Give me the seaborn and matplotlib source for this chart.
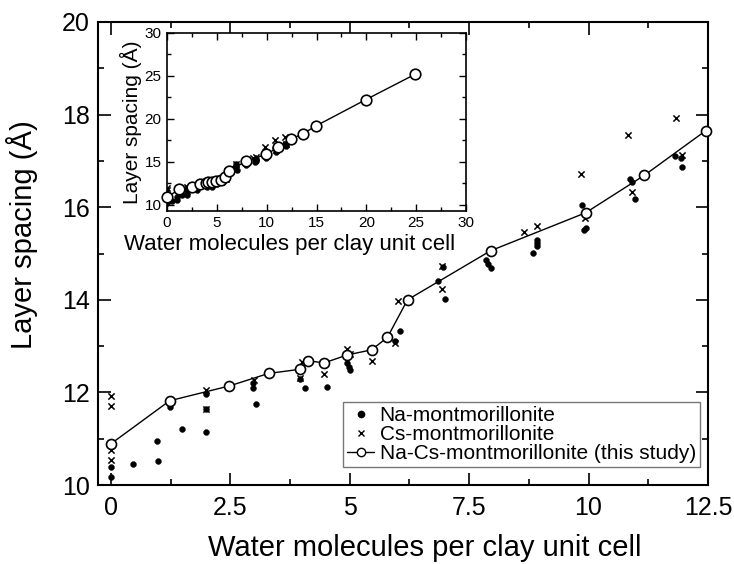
import numpy as np
import pandas as pd
import matplotlib
matplotlib.use('Agg')
import matplotlib.pyplot as plt
from matplotlib.lines import Line2D
from matplotlib.ticker import MultipleLocator
import seaborn as sns

# Na-montmorillonite (literature)
na_x = [0, 0, 0.47, 0.96, 0.98, 1.23, 1.49, 2.0, 2.0, 2.0, 2.97, 2.97, 3.03,
        3.96, 4.06, 4.53, 4.95, 4.98, 5.0, 5.94, 6.05, 6.85, 7.0, 6.95,
        7.85, 7.9, 7.96, 8.83, 8.92, 8.93, 8.92, 9.86, 9.9, 9.94,
        10.86, 10.92, 10.97, 11.82, 11.93, 11.95]
na_y = [10.17, 10.40, 10.45, 10.96, 10.52, 11.69, 11.20, 11.14, 11.65, 11.96, 12.20, 12.09, 11.76,
        12.30, 12.10, 12.11, 12.63, 12.55, 12.48, 13.10, 13.33, 14.41, 14.01, 14.71,
        14.86, 14.78, 14.69, 15.02, 15.30, 15.22, 15.16, 16.05, 15.50, 15.55,
        16.60, 16.55, 16.18, 17.11, 17.07, 16.87]

# Cs-montmorillonite (literature)
cs_x = [0, 0, 0, 0, 2.0, 2.0, 3.0, 3.96, 4.01, 4.46, 4.95, 5.0, 5.46, 5.94,
        6.01, 6.94, 6.94, 8.65, 8.92, 9.85, 9.93, 10.83, 10.92, 11.83, 11.95]
cs_y = [11.92, 11.71, 10.76, 10.54, 12.05, 11.65, 12.27, 12.32, 12.66, 12.39, 12.93, 12.84, 12.68, 13.06,
        13.98, 14.73, 14.23, 15.47, 15.60, 16.72, 15.76, 17.57, 16.33, 17.92, 17.12]

# Na-Cs-montmorillonite (this study)
nacs_x = [0, 1.23, 2.48, 3.30, 3.96, 4.13, 4.47, 4.95, 5.46, 5.79, 6.21,
          7.95, 9.94, 11.17, 12.45, 13.67, 14.95, 19.96, 24.87]
nacs_y = [10.89, 11.82, 12.14, 12.41, 12.50, 12.68, 12.64, 12.81, 12.92, 13.19, 14.00,
          15.06, 15.88, 16.69, 17.65, 18.30, 19.19, 22.25, 25.18]

xlabel = 'Water molecules per clay unit cell'
ylabel = 'Layer spacing (Å)'
legend_labels = ['Na-montmorillonite', 'Cs-montmorillonite', 'Na-Cs-montmorillonite (this study)']
main_xticks = [0, 2.5, 5, 7.5, 10, 12.5]
main_xticklabels = ['0', '2.5', '5', '7.5', '10', '12.5']

sns.set_style('ticks')
plt.rcParams['font.family'] = ['Liberation Sans', 'DejaVu Sans']
plt.rcParams.update({'text.color': 'black', 'axes.labelcolor': 'black',
                     'xtick.color': 'black', 'ytick.color': 'black',
                     'axes.edgecolor': 'black'})

fig = plt.figure(figsize=(7.34, 5.64), dpi=100)
ax = fig.add_axes([0.1335, 0.140, 0.831, 0.821])
ins = fig.add_axes([0.2275, 0.626, 0.4074, 0.3156])


def draw(a, msize, clip_max=None):
    sns.scatterplot(x=na_x, y=na_y, ax=a, marker='o', s=18, color='black',
                    edgecolor='black', linewidth=0.3, zorder=3)
    sns.scatterplot(x=cs_x, y=cs_y, ax=a, marker='x', s=20, color='black',
                    linewidth=1.1, zorder=3)
    sns.lineplot(x=nacs_x, y=nacs_y, ax=a, color='black', lw=1.0,
                 estimator=None, sort=False, zorder=4)
    df = pd.DataFrame({'x': nacs_x, 'y': nacs_y})
    if clip_max is not None:
        df = df[df.x <= clip_max]
    sns.scatterplot(data=df, x='x', y='y', ax=a, marker='o', s=msize,
                    facecolor='white', edgecolor='black', linewidth=1.2,
                    zorder=5, clip_on=False)


draw(ax, 52, clip_max=12.5)
ax.set_xlim(-0.27, 12.5)
ax.set_ylim(10, 20)
ax.xaxis.set_minor_locator(MultipleLocator(1.25))
ax.yaxis.set_major_locator(MultipleLocator(2))
ax.yaxis.set_minor_locator(MultipleLocator(1))
ax.set_xticks(main_xticks)
ax.set_xticklabels(main_xticklabels)
ax.tick_params(which='both', direction='in', top=True, right=True, labelsize=18, width=1.2)
ax.tick_params(which='major', length=9)
ax.tick_params(axis='x', which='major', pad=8)
ax.tick_params(axis='y', which='major', pad=6)
ax.tick_params(which='minor', length=4.5)
for s in ax.spines.values():
    s.set_linewidth(1.5)
ax.set_xlabel(xlabel, fontsize=21)
ax.xaxis.set_label_coords(0.535, -0.105)
ax.set_ylabel(ylabel, fontsize=21)
ax.yaxis.set_label_coords(-0.099, 0.54)

# legend handles drawn smaller than the plotted markers
handles = [
    Line2D([], [], ls='none', marker='o', ms=4.5, color='black'),
    Line2D([], [], ls='none', marker='x', ms=4.5, mew=1, color='black'),
    Line2D([], [], ls='-', lw=1, marker='o', ms=6, mfc='white', mec='black', color='black'),
]
leg = ax.legend(handles, legend_labels, loc='lower right', bbox_to_anchor=(0.987, 0.039),
                borderaxespad=0, fontsize=15, frameon=True, fancybox=False,
                handlelength=1.3, handletextpad=0.25, labelspacing=0.0,
                borderpad=0.2)
leg.get_frame().set_edgecolor('#555555')
leg.get_frame().set_linewidth(1.0)

draw(ins, 58)
ins.set_xlim(0, 30)
ins.set_ylim(9.3, 30)
ins.xaxis.set_major_locator(MultipleLocator(5))
ins.xaxis.set_minor_locator(MultipleLocator(2.5))
ins.yaxis.set_major_locator(MultipleLocator(5))
ins.yaxis.set_minor_locator(MultipleLocator(2.5))
ins.tick_params(which='both', direction='in', top=True, right=True, labelsize=11, width=1.0)
ins.tick_params(which='major', length=5, pad=4)
ins.tick_params(which='minor', length=3)
for s in ins.spines.values():
    s.set_linewidth(1.2)
ins.set_xlabel(xlabel, fontsize=16)
ins.xaxis.set_label_coords(0.41, -0.13)
ins.set_ylabel(ylabel, fontsize=15, labelpad=2)

fig.savefig('out.png', dpi=100)
